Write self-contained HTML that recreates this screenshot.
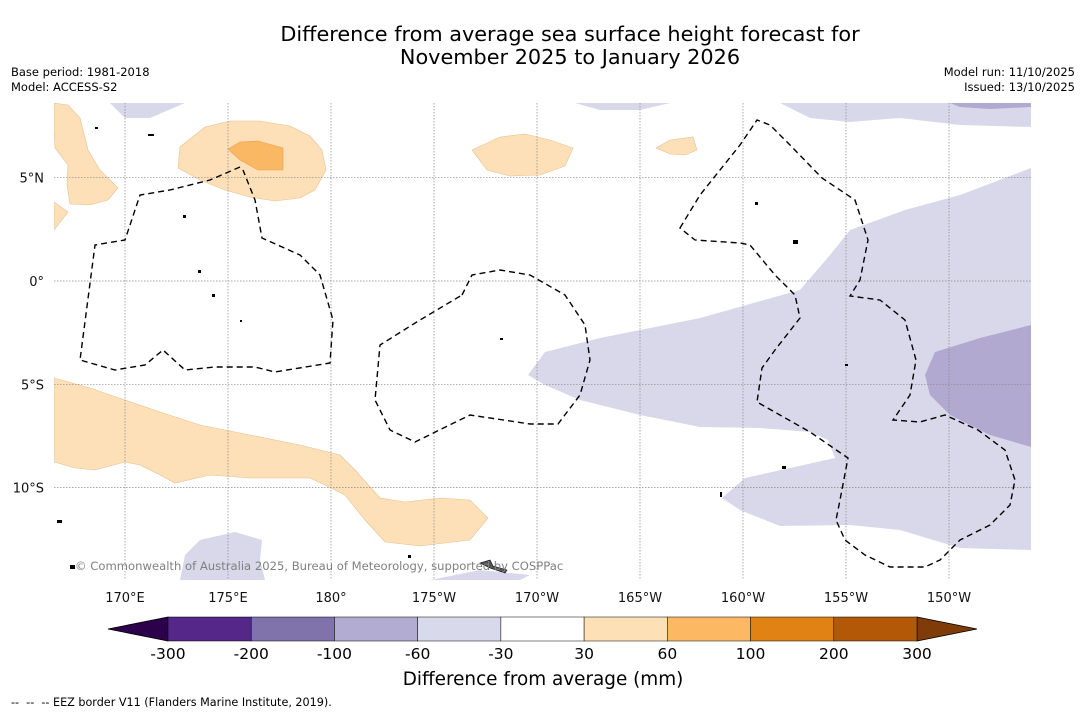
<!DOCTYPE html>
<html><head><meta charset="utf-8">
<style>
body{margin:0;background:#fff;width:1085px;height:713px;overflow:hidden;font-family:"DejaVu Sans","Liberation Sans",sans-serif;}
svg text{font-family:"DejaVu Sans","Liberation Sans",sans-serif;}
</style></head>
<body>
<svg id="chart" width="1085" height="713" viewBox="0 0 1085 713" xmlns="http://www.w3.org/2000/svg">
<text x="570" y="41" font-size="20.8" text-anchor="middle">Difference from average sea surface height forecast for</text>
<text x="570" y="64" font-size="20.8" text-anchor="middle">November 2025 to January 2026</text>
<text x="11" y="76" font-size="11.5">Base period: 1981-2018</text>
<text x="11" y="91" font-size="11.5">Model: ACCESS-S2</text>
<text x="1075" y="76" font-size="11.5" text-anchor="end">Model run: 11/10/2025</text>
<text x="1075" y="91" font-size="11.5" text-anchor="end">Issued: 13/10/2025</text>
<defs><clipPath id="mapclip"><rect x="54" y="103" width="977" height="477"/></clipPath></defs>
<g id="map" clip-path="url(#mapclip)">
 <g fill="#d8d8ea">
  <path d="M528,375 L545,352 L600,338 L700,318 L800,290 L830,255 L850,230 L905,210 L960,195 L1031,168 L1031,550 L960,548 L900,530 L850,525 L780,526 L740,510 L722,498 L745,478 L790,468 L835,458 L828,440 L810,432 L760,428 L700,427 L640,415 L580,400 L545,385 Z"/>
  <path d="M110,103 L185,103 L150,118 L125,118 Z"/>
  <path d="M575,103 L670,103 L640,110 L600,110 Z"/>
  <path d="M780,103 L1031,103 L1031,127 L960,125 L900,118 L850,122 L810,118 Z"/>
  <path d="M180,580 L185,555 L200,540 L235,532 L262,540 L260,560 L265,580 Z"/>
  <path d="M430,580 L480,570 L530,575 L520,580 Z"/>
 </g>
 <g fill="#b1a9d0">
  <path d="M935,352 L980,338 L1031,325 L1031,447 L990,435 L950,415 L930,395 L925,375 Z"/>
  <path d="M950,103 L1031,103 L1031,107 L990,109 L960,107 Z"/>
 </g>
 <g fill="#fde0b7" stroke="#e6c08f" stroke-width="0.6">
  <path d="M54,103 L68,105 L80,118 L88,150 L100,170 L118,188 L108,200 L90,205 L70,204 L67,185 L68,165 L55,148 L54,130 Z"/>
  <path d="M54,202 L68,212 L54,230 Z"/>
  <path d="M180,147 L205,127 L230,121 L260,121 L290,126 L310,136 L322,150 L326,170 L315,190 L300,198 L275,201 L250,197 L225,190 L200,180 L178,168 Z"/>
  <path d="M472,150 L500,137 L525,134 L550,140 L573,148 L565,166 L540,175 L510,176 L487,170 Z"/>
  <path d="M656,148 L670,140 L693,137 L697,150 L685,155 L670,154 Z"/>
  <path d="M54,378 L90,388 L125,400 L160,412 L200,425 L250,435 L300,445 L340,455 L355,470 L380,498 L405,502 L440,498 L470,500 L488,518 L470,540 L420,546 L385,542 L365,520 L345,495 L325,485 L310,478 L250,478 L210,475 L175,483 L160,475 L140,465 L125,462 L95,470 L75,468 L54,462 Z"/>
 </g>
 <path fill="#fbb864" stroke="#e6a050" stroke-width="0.6" d="M228,149 L240,142 L258,141 L283,148 L283,170 L258,170 L240,160 Z"/>
 <g id="grid" stroke="#888" stroke-width="0.7" stroke-dasharray="1.5,1.5"></g>
 <g fill="none" stroke="#000" stroke-width="1.4" stroke-dasharray="6,4">
  <path d="M240,167 L210,180 L170,190 L140,195 L125,240 L95,245 L80,360 L115,370 L145,365 L163,350 L185,370 L215,367 L255,367 L275,372 L330,363 L333,320 L320,275 L300,255 L262,238 L255,200 L243,170"/>
  <path d="M462,295 L472,275 L500,270 L530,275 L565,295 L585,325 L590,360 L580,395 L558,424 L530,424 L470,415 L415,442 L390,430 L375,400 L380,345 L420,320 L462,295"/>
  <path d="M680,228 L700,195 L740,145 L757,120 L770,125 L790,145 L822,178 L855,200 L868,240 L860,280 L850,296 L880,300 L905,320 L916,360 L910,395 L893,420 L920,422 L945,415 L978,430 L1005,450 L1015,480 L1010,505 L990,525 L960,540 L940,560 L925,567 L890,567 L865,555 L845,540 L836,520 L840,500 L848,458 L810,432 L757,402 L762,368 L775,350 L800,318 L795,295 L775,275 L750,245 L740,243 L695,240 Z"/>
 </g>
 <g fill="#000">
  <rect x="95" y="127" width="3" height="2"/><rect x="148" y="134" width="6" height="2"/><rect x="183" y="215" width="3" height="3"/><rect x="198" y="270" width="3" height="3"/><rect x="212" y="294" width="3" height="3"/><rect x="240" y="320" width="2" height="2"/><rect x="500" y="338" width="3" height="2"/><rect x="755" y="202" width="3" height="3"/><rect x="793" y="240" width="5" height="4"/><rect x="57" y="520" width="5" height="3"/><rect x="70" y="565" width="5" height="4"/><rect x="408" y="555" width="3" height="3"/><rect x="720" y="492" width="2" height="5"/><rect x="845" y="364" width="3" height="2"/><rect x="782" y="466" width="4" height="3"/>
  <path d="M480,563 L490,560 L493,566 L507,570 L505,573 L490,568 Z" fill="#555" stroke="#000" stroke-width="0.6"/>
 </g>
</g>
<text x="75" y="570" font-size="11.6" fill="#808080">© Commonwealth of Australia 2025, Bureau of Meteorology, supported by COSPPac</text>
<g id="axes" font-size="13" fill="#111"></g>
<g id="cbar"></g>
<text x="543" y="685" font-size="18.4" text-anchor="middle">Difference from average (mm)</text>
<text x="11" y="706" font-size="11.2" xml:space="preserve">--  --  -- EEZ border V11 (Flanders Marine Institute, 2019).</text>
</svg>
<script>
const lonTicks=[170,175,180,185,190,195,200,205,210];
const lonLabels=["170°E","175°E","180°","175°W","170°W","165°W","160°W","155°W","150°W"];
const latTicks=[5,0,-5,-10];
const latLabels=["5°N","0°","5°S","10°S"];
const levels=["-300","-200","-100","-60","-30","30","60","100","200","300"];
const binColors=["#542788","#8073ac","#b2abd2","#d8daeb","#ffffff","#fee0b6","#fdb863","#e08214","#b35806"];
const extColors=["#2d004b","#7f3b08"];
const NS="http://www.w3.org/2000/svg";
const xLon=l=>125+(l-170)*20.6;
const yLat=a=>281-a*20.66;
function mk(tag,attrs,parent){const e=document.createElementNS(NS,tag);for(const k in attrs)e.setAttribute(k,attrs[k]);parent.appendChild(e);return e;}
const grid=document.getElementById('grid'),axes=document.getElementById('axes');
lonTicks.forEach((l,i)=>{
 const ln=mk('line',{x1:xLon(l),x2:xLon(l),y1:103,y2:580},grid);
 
 
 const t=mk('text',{x:xLon(l),y:602,'text-anchor':'middle'},axes);t.textContent=lonLabels[i];
 
 
});
latTicks.forEach((a,i)=>{
 const ln=mk('line',{x1:54,x2:1031,y1:yLat(a),y2:yLat(a)},grid);
 
 
 const t=mk('text',{x:44,y:yLat(a)+5,'text-anchor':'end'},axes);t.textContent=latLabels[i];
 
 
});
const cb=document.getElementById('cbar');
const cx0=168,cx1=917,cy=617,ch=24,bw=(cx1-cx0)/binColors.length;
const lt=mk('polygon',{points:`${cx0},${cy} 108,${cy+ch/2} ${cx0},${cy+ch}`,fill:extColors[0],stroke:'#000','stroke-width':0.8},cb);


const rt=mk('polygon',{points:`${cx1},${cy} 977,${cy+ch/2} ${cx1},${cy+ch}`,fill:extColors[1],stroke:'#000','stroke-width':0.8},cb);


binColors.forEach((c,i)=>{
 const r=mk('rect',{x:cx0+i*bw,y:cy,width:bw,height:ch,fill:c,stroke:'#000','stroke-width':0.5},cb);
 
 
});
levels.forEach((v,i)=>{
 const t=mk('text',{x:cx0+i*bw,y:cy+ch+18,'text-anchor':'middle','font-size':15.5},cb);t.textContent=v;
 
 
});
</script>
</body></html>
